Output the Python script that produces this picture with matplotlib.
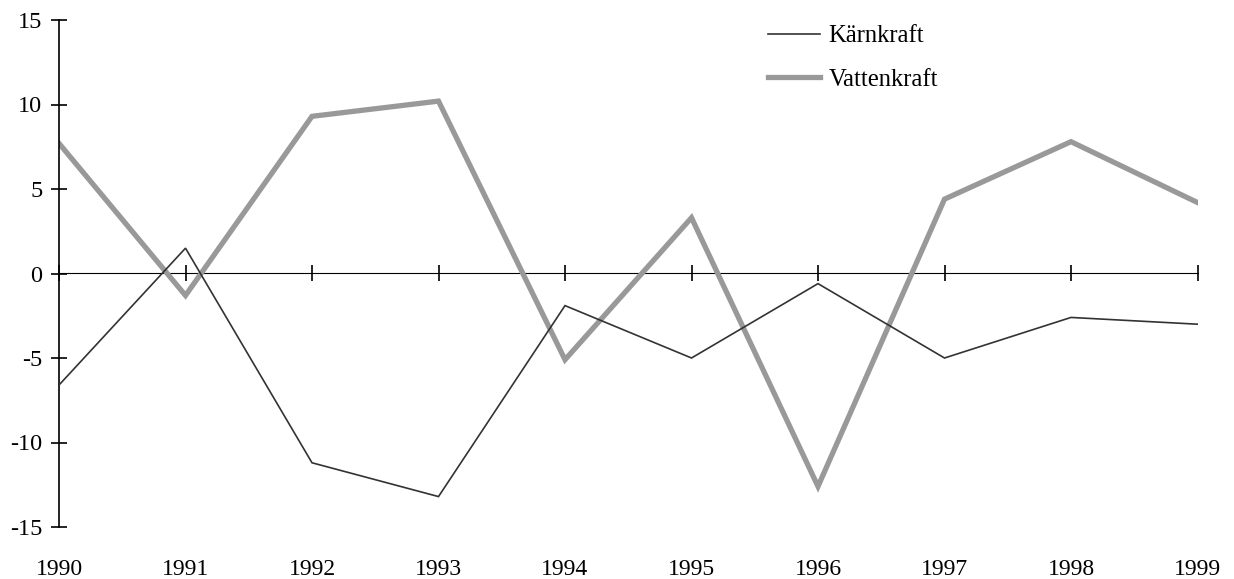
import matplotlib
matplotlib.use("Agg")
import matplotlib.pyplot as plt

years = [1990, 1991, 1992, 1993, 1994, 1995, 1996, 1997, 1998, 1999]
karnkraft = [-6.6, 1.5, -11.2, -13.2, -1.9, -5.0, -0.6, -5.0, -2.6, -3.0]
vattenkraft = [7.7, -1.3, 9.3, 10.2, -5.1, 3.3, -12.6, 4.4, 7.8, 4.2]
yticks = [-15, -10, -5, 0, 5, 10, 15]
series_names = ["Kärnkraft", "Vattenkraft"]

plt.rcParams['font.family'] = ['Liberation Serif', 'DejaVu Serif']

fig = plt.figure(figsize=(12.34, 5.79), dpi=100)
ax = fig.add_axes([59/1234, 1-527/579, (1197.5-59)/1234, (527-20)/579])

ax.plot(years, karnkraft, color='#333333', lw=1.2, label=series_names[0], zorder=3, solid_joinstyle='miter')
ax.plot(years, vattenkraft, color='#999999', lw=3.8, label=series_names[1], zorder=2, solid_joinstyle='miter')

ax.set_xlim(years[0], years[-1])
ax.set_ylim(-15, 15)

for s in ['top', 'right', 'bottom']:
    ax.spines[s].set_visible(False)
ax.spines['left'].set_linewidth(1.2)

ax.set_yticks(yticks)
ax.set_yticklabels([str(v) for v in yticks])
ax.tick_params(axis='y', direction='inout', length=12, width=1.2, labelsize=17.5, pad=6)

ax.set_xticks(years)
ax.set_xticklabels([str(y) for y in years])
ax.tick_params(axis='x', length=0, labelsize=17, pad=23)

sec = ax.secondary_xaxis(0.5)
sec.set_xticks(years)
sec.set_xticklabels([])
sec.tick_params(direction='inout', length=12, width=1.2)
sec.spines['bottom'].set_linewidth(1.2)

leg = ax.legend(loc='upper left', bbox_to_anchor=(768/1234, 1-25/579), bbox_transform=fig.transFigure,
                frameon=False, fontsize=17.7, handlelength=2.1, handletextpad=0.35,
                borderpad=0, borderaxespad=0, labelspacing=0.87)

fig.savefig('out.png', dpi=100)
